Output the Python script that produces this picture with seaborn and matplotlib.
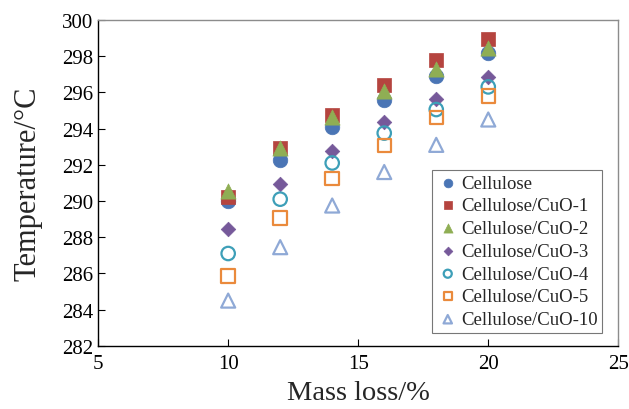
import numpy as np
import pandas as pd
import seaborn as sns
import matplotlib.pyplot as plt

mass_loss = [10, 12, 14, 16, 18, 20]

cellulose = [290.0, 292.25, 294.1, 295.6, 296.9, 298.2]
cuo_1 = [290.2, 292.9, 294.75, 296.4, 297.8, 298.95]
cuo_2 = [290.55, 292.9, 294.65, 296.1, 297.3, 298.45]
cuo_3 = [288.45, 290.95, 292.75, 294.35, 295.65, 296.85]
cuo_4 = [287.1, 290.1, 292.1, 293.75, 295.05, 296.3]
cuo_5 = [285.85, 289.05, 291.25, 293.05, 294.6, 295.8]
cuo_10 = [284.5, 287.45, 289.75, 291.6, 293.1, 294.5]

labels = ['Cellulose', 'Cellulose/CuO-1', 'Cellulose/CuO-2', 'Cellulose/CuO-3',
          'Cellulose/CuO-4', 'Cellulose/CuO-5', 'Cellulose/CuO-10']
series = [cellulose, cuo_1, cuo_2, cuo_3, cuo_4, cuo_5, cuo_10]

# marker, colour, filled, size
styles = [('o', '#4a75b5', True, 110),
          ('s', '#b5443f', True, 110),
          ('^', '#8fae54', True, 120),
          ('D', '#76599a', True, 55),
          ('o', '#3d9fb8', False, 110),
          ('s', '#ea8a3c', False, 110),
          ('^', '#8fa9d6', False, 120)]

df = pd.DataFrame({'Mass loss': mass_loss * len(series),
                   'Temperature': np.concatenate(series),
                   'Sample': np.repeat(labels, len(mass_loss))})

sns.set_style('ticks')
plt.rcParams['font.family'] = ['Liberation Serif', 'DejaVu Serif']

fig = plt.figure(figsize=(6.29, 4.10), dpi=100)
ax = fig.add_axes([0.156, 0.154, 0.827, 0.795])

for lab, (mk, col, filled, s) in zip(labels, styles):
    sub = df[df['Sample'] == lab]
    if filled:
        sns.scatterplot(data=sub, x='Mass loss', y='Temperature', marker=mk,
                        color=col, edgecolor=col, s=s, linewidth=0.5,
                        label=lab, ax=ax, zorder=3)
    else:
        sns.scatterplot(data=sub, x='Mass loss', y='Temperature', marker=mk,
                        facecolors='none', edgecolor=col, s=s * 0.85,
                        linewidth=1.6, label=lab, ax=ax, zorder=3)

ax.set_xlim(5, 25)
ax.set_ylim(282, 300)
ax.set_xticks([5, 10, 15, 20, 25])
ax.set_yticks(np.arange(282, 301, 2))
ax.tick_params(direction='in', length=5, width=0.8, labelsize=15,
               top=False, right=False, colors='black')
ax.tick_params(axis='x', pad=6)
for side in ['left', 'bottom']:
    ax.spines[side].set_color('black')
    ax.spines[side].set_linewidth(1.0)
for side in ['top', 'right']:
    ax.spines[side].set_color('#8c8c8c')
    ax.spines[side].set_linewidth(1.0)

ax.set_xlabel('Mass loss/%', fontsize=20.5, labelpad=5)
ax.set_ylabel('Temperature/°C', fontsize=22, labelpad=14)

leg = ax.legend(loc='lower right', bbox_to_anchor=(0.969, 0.04), fontsize=13.5,
                markerscale=0.6, frameon=True, fancybox=False,
                handletextpad=0.1, labelspacing=0.3, borderpad=0.25,
                handlelength=1.2, borderaxespad=0)
leg.get_frame().set_edgecolor('#555555')
leg.get_frame().set_linewidth(0.8)

plt.savefig('out.png', dpi=100)
plt.close()
